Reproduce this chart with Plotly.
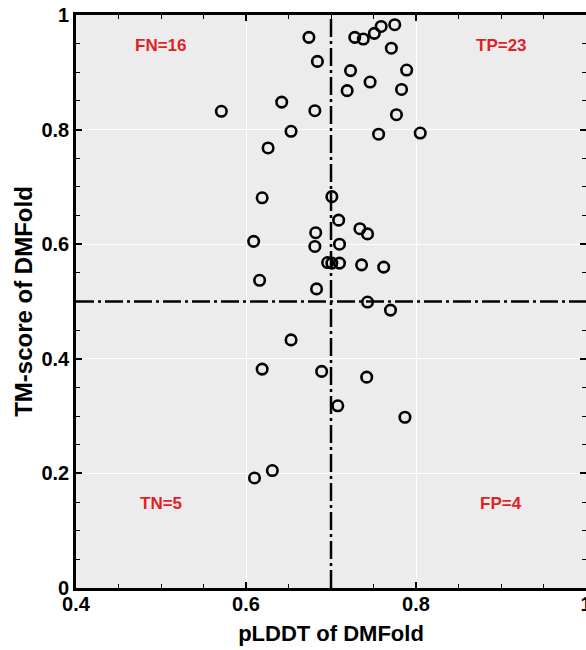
import plotly.graph_objects as go

plddt = [0.571, 0.674, 0.684, 0.642, 0.681, 0.653, 0.626, 0.619, 0.701,
         0.728, 0.738, 0.751, 0.759, 0.775, 0.771, 0.723, 0.789, 0.746,
         0.719, 0.783, 0.777, 0.756, 0.805,
         0.709, 0.682, 0.734, 0.743, 0.609, 0.681, 0.710, 0.696, 0.701,
         0.710, 0.736, 0.762, 0.616, 0.683, 0.743, 0.770, 0.653, 0.619,
         0.689, 0.742,
         0.708, 0.787, 0.610, 0.631]
tmscore = [0.832, 0.961, 0.919, 0.848, 0.833, 0.797, 0.768, 0.681, 0.683,
           0.961, 0.958, 0.968, 0.980, 0.983, 0.942, 0.903, 0.904, 0.883,
           0.868, 0.870, 0.826, 0.792, 0.794,
           0.642, 0.620, 0.627, 0.618, 0.605, 0.596, 0.600, 0.568, 0.567,
           0.567, 0.564, 0.560, 0.537, 0.522, 0.499, 0.485, 0.433, 0.382,
           0.378, 0.368,
           0.318, 0.298, 0.192, 0.205]

x_threshold = 0.7
y_threshold = 0.5
quad_labels = ["FN=16", "TP=23", "TN=5", "FP=4"]
quad_x = [0.50, 0.90, 0.50, 0.90]
quad_y = [0.946, 0.946, 0.148, 0.148]

x_ticks = [0.4, 0.6, 0.8, 1.0]
x_ticktext = ["0.4", "0.6", "0.8", "1"]
y_ticks = [0, 0.2, 0.4, 0.6, 0.8, 1.0]
y_ticktext = ["0", "0.2", "0.4", "0.6", "0.8", "1"]

FONT = "Liberation Sans, Arial, sans-serif"
DASH = "18px,4px,3px,4px"

fig = go.Figure()
fig.add_trace(go.Scatter(
    x=plddt, y=tmscore, mode="markers",
    marker=dict(symbol="circle-open", size=10.5, color="black",
                line=dict(width=2.6, color="black")),
    showlegend=False, hoverinfo="x+y"))

fig.add_shape(type="line", xref="x", yref="y", x0=x_threshold, x1=x_threshold,
              y0=0, y1=1, line=dict(color="black", width=2.5, dash=DASH))
fig.add_shape(type="line", xref="x", yref="y", x0=0.4, x1=1.0,
              y0=y_threshold, y1=y_threshold,
              line=dict(color="black", width=2.5, dash=DASH))

for t, xx, yy in zip(quad_labels, quad_x, quad_y):
    fig.add_annotation(x=xx, y=yy, text=t, showarrow=False,
                       font=dict(family=FONT, size=17, color="#e31f26", weight="bold"))

axis_common = dict(
    showline=True, linecolor="black", linewidth=2.6, mirror="allticks",
    ticks="inside", ticklen=6, tickwidth=1.5, tickcolor="black",
    showgrid=True, gridcolor="white", gridwidth=1.2, zeroline=False,
    tickfont=dict(family=FONT, size=20, color="black", weight="bold"),
    minor=dict(dtick=0.05, ticks="inside", ticklen=4, tickwidth=1.2,
               tickcolor="black", showgrid=False),
    ticklabeloverflow="allow",
    automargin=False,
)

fig.update_xaxes(range=[0.4, 1.0], tickvals=x_ticks, ticktext=x_ticktext,
                 ticklabelstandoff=-4,
                 title=dict(text="pLDDT of DMFold", standoff=12,
                            font=dict(family=FONT, size=22, color="black", weight="bold")),
                 **axis_common)
fig.update_yaxes(range=[0, 1.0], tickvals=y_ticks, ticktext=y_ticktext,
                 title=dict(text="TM-score of DMFold", standoff=2,
                            font=dict(family=FONT, size=24, color="black", weight="bold")),
                 **axis_common)

fig.update_layout(
    width=586, height=650,
    margin=dict(l=76, r=0, t=15, b=62),
    plot_bgcolor="#ececec", paper_bgcolor="white",
)

fig.write_html("out.html", config={"displayModeBar": False},
               post_script="document.body.style.margin='0';document.body.style.overflow='hidden';")
